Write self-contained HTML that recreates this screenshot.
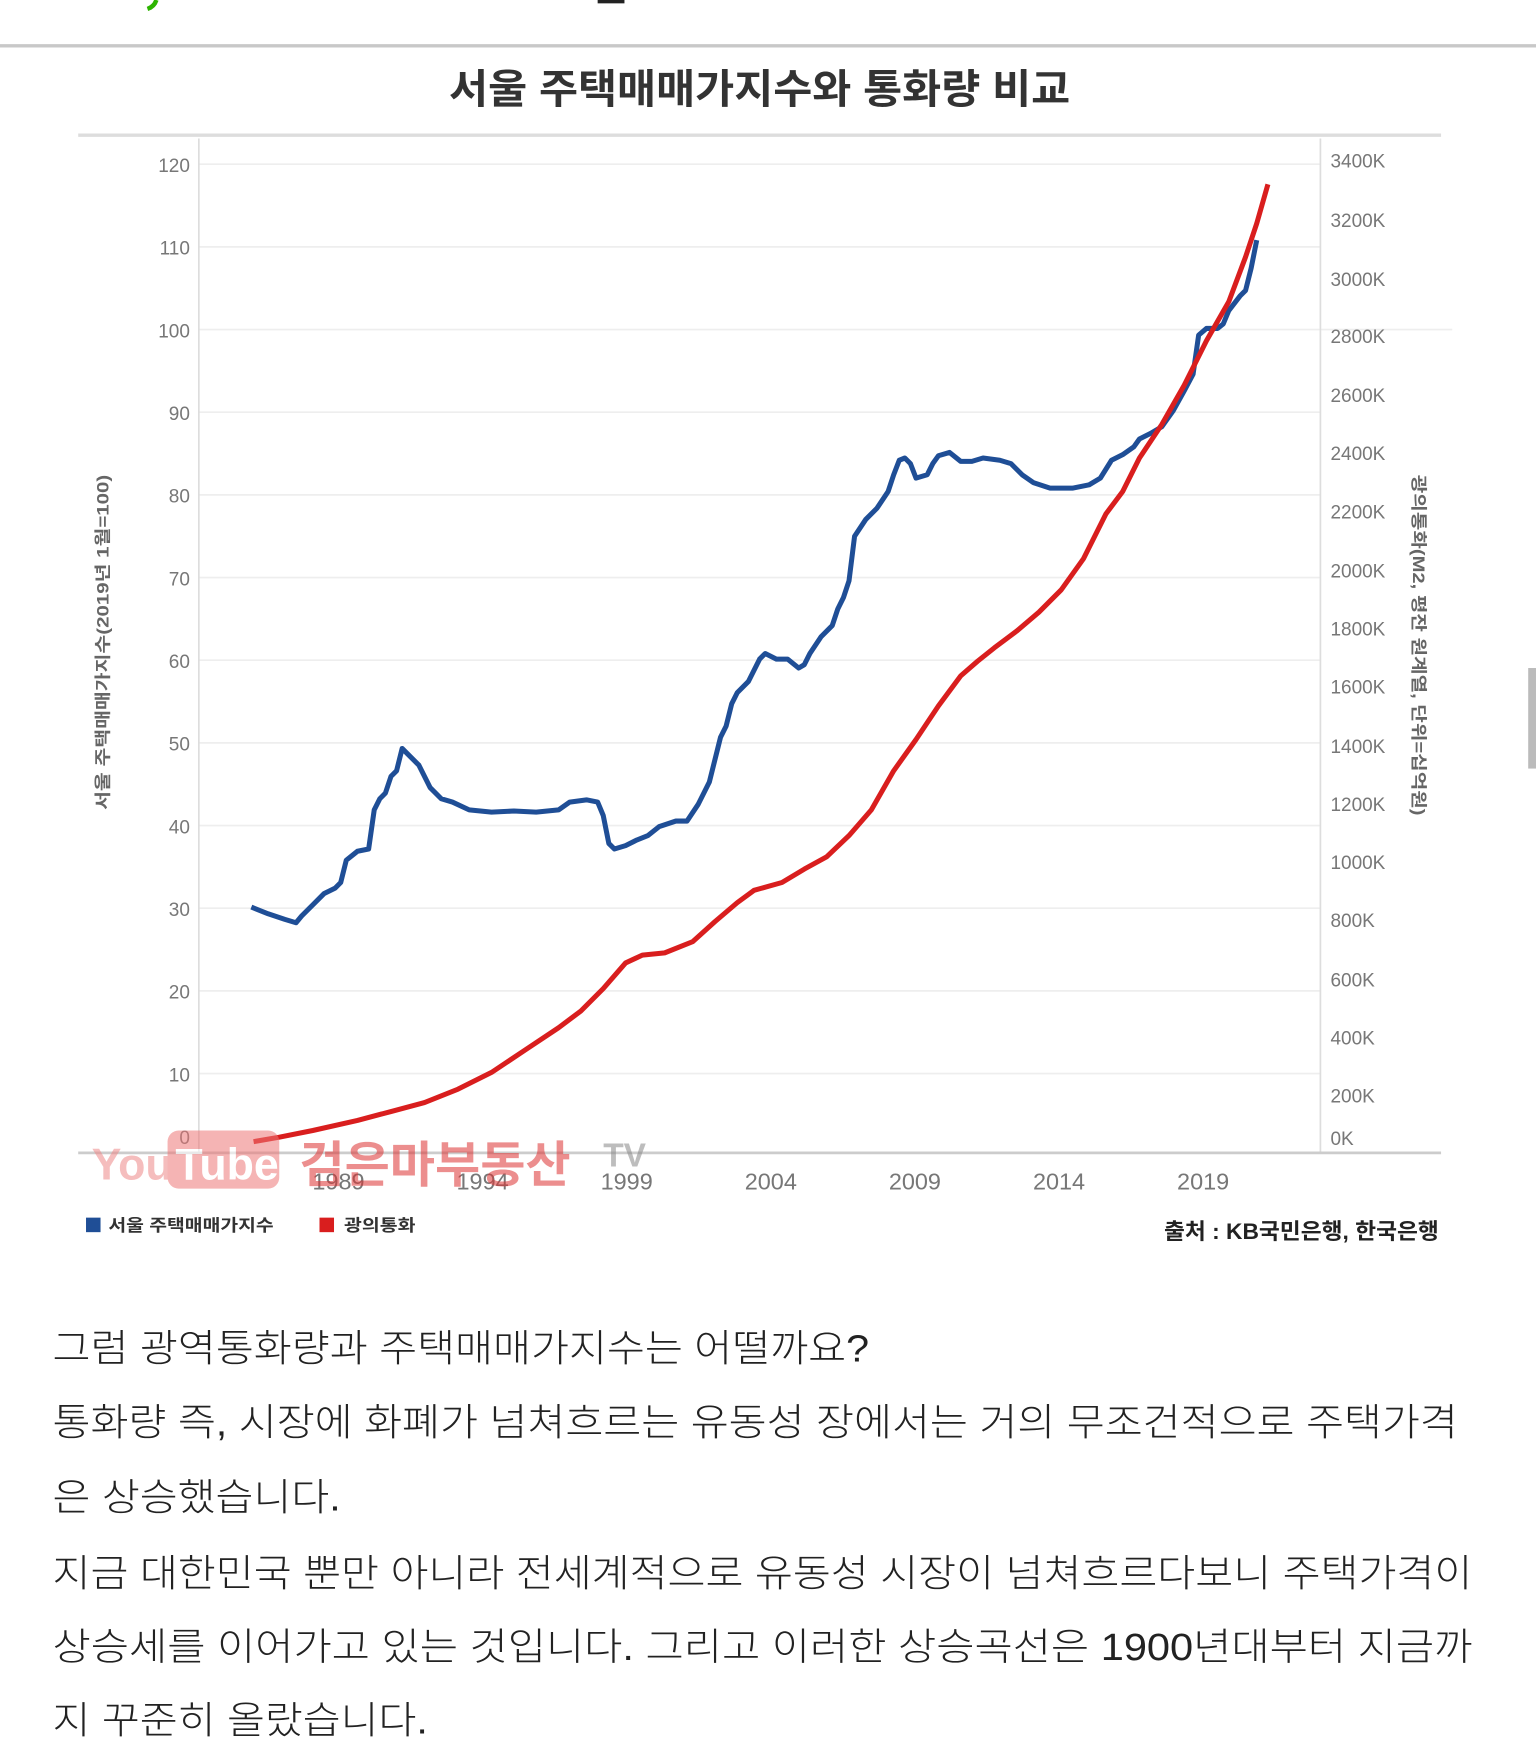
<!DOCTYPE html>
<html><head><meta charset="utf-8"><style>
html,body{margin:0;padding:0;background:#fff;width:1536px;height:1751px;overflow:hidden}
svg{display:block}
text{font-family:"Liberation Sans","Noto Sans CJK KR",sans-serif}
</style></head><body>
<svg width="1536" height="1751" viewBox="0 0 1536 1751">
<g transform="scale(1.1171)">
<rect x="0" y="0" width="1375" height="1568" fill="#fff"/>
<path d="M140 0 Q138 6 132 8" stroke="#2db400" stroke-width="4" fill="none"/>
<rect x="535" y="0" width="24" height="3" fill="#222"/>
<line x1="0" y1="41" x2="1375" y2="41" stroke="#c8c8c8" stroke-width="3"/>
<rect x="1368" y="598" width="7" height="90" fill="#bbb"/>
<text x="402" y="92" textLength="556" lengthAdjust="spacingAndGlyphs" font-size="36" font-weight="bold" fill="#333" font-family="Noto Sans CJK KR, sans-serif">서울 주택매매가지수와 통화량 비교</text>
<line x1="70" y1="121" x2="1290" y2="121" stroke="#ddd" stroke-width="3"/>
<g stroke="#eee" stroke-width="1.5">
<line x1="178" y1="147" x2="1182" y2="147"/><line x1="178" y1="221" x2="1182" y2="221"/>
<line x1="178" y1="295" x2="1300" y2="295"/><line x1="178" y1="369" x2="1182" y2="369"/>
<line x1="178" y1="443" x2="1182" y2="443"/><line x1="178" y1="517" x2="1182" y2="517"/>
<line x1="178" y1="591" x2="1182" y2="591"/><line x1="178" y1="665" x2="1182" y2="665"/>
<line x1="178" y1="739" x2="1182" y2="739"/><line x1="178" y1="813" x2="1182" y2="813"/>
<line x1="178" y1="887" x2="1182" y2="887"/><line x1="178" y1="961" x2="1182" y2="961"/>
</g>
<line x1="178" y1="124" x2="178" y2="1032" stroke="#ddd" stroke-width="1.5"/>
<line x1="1182" y1="124" x2="1182" y2="1032" stroke="#ddd" stroke-width="1.5"/>
<line x1="70" y1="1032" x2="1290" y2="1032" stroke="#ccc" stroke-width="2.5"/>
<g font-size="17" fill="#777" text-anchor="end">
<text x="170" y="154">120</text><text x="170" y="228">110</text><text x="170" y="302">100</text>
<text x="170" y="376">90</text><text x="170" y="450">80</text><text x="170" y="524">70</text>
<text x="170" y="598">60</text><text x="170" y="672">50</text><text x="170" y="746">40</text>
<text x="170" y="820">30</text><text x="170" y="894">20</text><text x="170" y="968">10</text>
<text x="170" y="1024">0</text>
</g>
<g font-size="17" fill="#777">
<text x="1191" y="150">3400K</text><text x="1191" y="203">3200K</text><text x="1191" y="256">3000K</text>
<text x="1191" y="307">2800K</text><text x="1191" y="360">2600K</text><text x="1191" y="412">2400K</text>
<text x="1191" y="464">2200K</text><text x="1191" y="517">2000K</text><text x="1191" y="569">1800K</text>
<text x="1191" y="621">1600K</text><text x="1191" y="674">1400K</text><text x="1191" y="726">1200K</text>
<text x="1191" y="778">1000K</text><text x="1191" y="830">800K</text><text x="1191" y="883">600K</text>
<text x="1191" y="935">400K</text><text x="1191" y="987">200K</text><text x="1191" y="1025">0K</text>
</g>
<g font-size="21" fill="#777" text-anchor="middle">
<text x="303" y="1065">1989</text><text x="432" y="1065">1994</text><text x="561" y="1065">1999</text>
<text x="690" y="1065">2004</text><text x="819" y="1065">2009</text><text x="948" y="1065">2014</text>
<text x="1077" y="1065">2019</text>
</g>
<text transform="translate(97,725) rotate(-90)" textLength="300" lengthAdjust="spacingAndGlyphs" font-size="15" fill="#666" font-weight="bold">서울 주택매매가지수(2019년 1월=100)</text>
<text transform="translate(1265,425) rotate(90)" textLength="305" lengthAdjust="spacingAndGlyphs" font-size="15" fill="#666" font-weight="bold">광의통화(M2, 평잔 원계열, 단위=십억원)</text>
<polyline fill="none" stroke="#1f4e96" stroke-width="4.5" stroke-linejoin="round" points="225,812 240,818 255,823 265,826 270,820 280,810 290,800 300,795 305,790 310,770 320,762 330,760 335,725 340,715 345,710 350,695 355,690 360,670 365,675 375,685 385,705 395,715 405,718 420,725 440,727 460,726 480,727 500,725 510,718 525,716 535,718 540,730 545,755 550,760 560,757 570,752 580,748 590,740 605,735 615,735 625,720 635,700 640,680 645,660 650,650 655,630 660,620 670,610 680,590 685,585 695,590 705,590 715,598 720,595 725,585 735,570 745,560 750,545 755,535 760,520 765,480 775,465 785,455 795,440 800,425 805,412 810,410 815,415 820,428 830,425 835,415 840,408 850,405 860,413 870,413 880,410 895,412 905,415 915,425 925,432 940,437 960,437 975,434 985,428 995,412 1005,407 1015,400 1020,393 1030,388 1040,382 1050,368 1060,350 1068,335 1073,300 1080,294 1090,294 1095,290 1100,278 1110,265 1115,260 1120,240 1125,215"/>
<polyline fill="none" stroke="#d91e1e" stroke-width="4.5" stroke-linejoin="round" points="227,1022 250,1018 280,1012 320,1003 350,995 380,987 410,975 440,960 470,940 500,920 520,905 540,885 560,862 575,855 595,853 620,843 640,825 660,808 675,797 700,790 720,778 740,767 760,748 780,725 800,690 820,662 840,632 860,605 875,592 890,580 910,565 930,548 950,528 970,500 990,460 1005,440 1020,410 1040,380 1060,345 1080,305 1100,270 1115,230 1125,200 1135,165"/>
<g opacity="0.55">
<text x="82" y="1056" font-size="40" font-weight="bold" fill="#e88" >You</text>
<rect x="150" y="1012" width="100" height="52" rx="10" fill="#e77"/>
<text x="157" y="1056" font-size="40" font-weight="bold" fill="#fff">Tube</text>
<text x="268" y="1058" font-size="44" font-weight="bold" fill="#d33" font-family="Noto Sans CJK KR, sans-serif">검은마부동산</text>
<text x="540" y="1044" font-size="30" font-weight="bold" fill="#888">TV</text>
</g>
<rect x="77" y="1090" width="13" height="13" fill="#1f4e96"/>
<text x="97" y="1102" textLength="148" lengthAdjust="spacingAndGlyphs" font-size="15" fill="#333" font-weight="bold">서울 주택매매가지수</text>
<rect x="286" y="1090" width="13" height="13" fill="#d91e1e"/>
<text x="308" y="1102" textLength="64" lengthAdjust="spacingAndGlyphs" font-size="15" fill="#333" font-weight="bold">광의통화</text>
<text x="1042" y="1109" textLength="246" lengthAdjust="spacingAndGlyphs" font-size="20" fill="#222" font-weight="bold">출처 : KB국민은행, 한국은행</text>
<g font-size="34" fill="#222" font-family="Noto Sans CJK KR, sans-serif" font-weight="300" lengthAdjust="spacingAndGlyphs">
<text x="47" y="1219" textLength="731" lengthAdjust="spacingAndGlyphs">그럼 광역통화량과 주택매매가지수는 어떨까요?</text>
<text x="47" y="1285" textLength="1258" lengthAdjust="spacingAndGlyphs">통화량 즉, 시장에 화폐가 넘쳐흐르는 유동성 장에서는 거의 무조건적으로 주택가격</text>
<text x="47" y="1352" textLength="258" lengthAdjust="spacingAndGlyphs">은 상승했습니다.</text>
<text x="47" y="1420" textLength="1271" lengthAdjust="spacingAndGlyphs">지금 대한민국 뿐만 아니라 전세계적으로 유동성 시장이 넘쳐흐르다보니 주택가격이</text>
<text x="47" y="1486" textLength="1271" lengthAdjust="spacingAndGlyphs">상승세를 이어가고 있는 것입니다. 그리고 이러한 상승곡선은 1900년대부터 지금까</text>
<text x="47" y="1552" textLength="336" lengthAdjust="spacingAndGlyphs">지 꾸준히 올랐습니다.</text>
</g>
</g>
</svg>
</body></html>
